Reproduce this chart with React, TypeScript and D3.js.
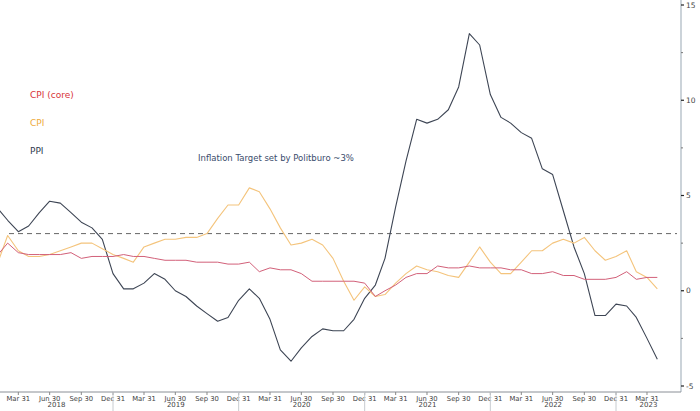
import * as d3 from 'd3'

// month-end dates, Jan 2018 .. Apr 2023
const months = d3.utcMonth
  .range(new Date(Date.UTC(2018, 1, 1)), new Date(Date.UTC(2023, 5, 1)))
  .map(d => d3.utcDay.offset(d, -1))

const ppi = [
  4.3, 3.7, 3.1, 3.4, 4.1, 4.7, 4.6, 4.1, 3.6, 3.3, 2.7, 0.9,
  0.1, 0.1, 0.4, 0.9, 0.6, 0.0, -0.3, -0.8, -1.2, -1.6, -1.4, -0.5,
  0.1, -0.4, -1.5, -3.1, -3.7, -3.0, -2.4, -2.0, -2.1, -2.1, -1.5, -0.4,
  0.3, 1.7, 4.4, 6.8, 9.0, 8.8, 9.0, 9.5, 10.7, 13.5, 12.9, 10.3,
  9.1, 8.8, 8.3, 8.0, 6.4, 6.1, 4.2, 2.3, 0.9, -1.3, -1.3, -0.7,
  -0.8, -1.4, -2.5, -3.6
]

const cpi = [
  1.5, 2.9, 2.1, 1.8, 1.8, 1.9, 2.1, 2.3, 2.5, 2.5, 2.2, 1.9,
  1.7, 1.5, 2.3, 2.5, 2.7, 2.7, 2.8, 2.8, 3.0, 3.8, 4.5, 4.5,
  5.4, 5.2, 4.3, 3.3, 2.4, 2.5, 2.7, 2.4, 1.7, 0.5, -0.5, 0.2,
  -0.3, -0.2, 0.4, 0.9, 1.3, 1.1, 1.0, 0.8, 0.7, 1.5, 2.3, 1.5,
  0.9, 0.9, 1.5, 2.1, 2.1, 2.5, 2.7, 2.5, 2.8, 2.1, 1.6, 1.8,
  2.1, 1.0, 0.7, 0.1
]

const coreCpi = [
  1.9, 2.5, 2.0, 1.9, 1.9, 1.9, 1.9, 2.0, 1.7, 1.8, 1.8, 1.8,
  1.9, 1.8, 1.8, 1.7, 1.6, 1.6, 1.6, 1.5, 1.5, 1.5, 1.4, 1.4,
  1.5, 1.0, 1.2, 1.1, 1.1, 0.9, 0.5, 0.5, 0.5, 0.5, 0.5, 0.4,
  -0.3, 0.0, 0.3, 0.7, 0.9, 0.9, 1.3, 1.2, 1.2, 1.3, 1.2, 1.2,
  1.2, 1.1, 1.1, 0.9, 0.9, 1.0, 0.8, 0.8, 0.6, 0.6, 0.6, 0.7,
  1.0, 0.6, 0.7, 0.7
]

const target = 3
const yTicks = [-5, 0, 5, 10, 15]
const yMinorTicks = [-2.5, 2.5, 7.5, 12.5]
const years = [2018, 2019, 2020, 2021, 2022, 2023]

const quarterEnds = d3.utcMonth
  .range(new Date(Date.UTC(2018, 3, 1)), new Date(Date.UTC(2023, 3, 2)), 3)
  .map(d => d3.utcDay.offset(d, -1))

const W = 700
const H = 411
const plotLeft = 0
const plotRight = 681
const axisY = 392
const font = '"DejaVu Sans", Verdana, sans-serif'

const x = d3.scaleUtc()
  .domain([new Date(Date.UTC(2018, 11, 31)), new Date(Date.UTC(2022, 11, 31))])
  .range([113, 616])

const y = d3.scaleLinear().domain([-5, 15]).range([386, 5])

const fmt = d3.utcFormat('%b %d')

const series = [
  { name: 'PPI', values: ppi, color: '#3d4554', width: 1.1 },
  { name: 'CPI', values: cpi, color: '#f4c47c', width: 1.1 },
  { name: 'CPI (core)', values: coreCpi, color: '#d26079', width: 1 }
]

const labels = [
  { text: 'CPI (core)', color: '#d8343a', y: 95 },
  { text: 'CPI', color: '#eeaa3c', y: 123 },
  { text: 'PPI', color: '#2f3a4d', y: 151 }
]

const App = () => {
  const line = (vals: number[]) =>
    d3.line<number>()
      .x((_, i) => x(months[i]))
      .y(v => y(v))(vals) || ''

  const yearStarts = years.map(yr => x(new Date(Date.UTC(yr - 1, 11, 31))))
  const yearEnds = years.map(yr => x(new Date(Date.UTC(yr, 11, 31))))

  return (
    <svg
      width={W}
      height={H}
      style={{ position: 'absolute', left: 0, top: 0, background: '#fff', fontFamily: font }}
    >
      <defs>
        <clipPath id="plot">
          <rect x={plotLeft} y={0} width={plotRight - plotLeft} height={axisY} />
        </clipPath>
      </defs>

      {/* target line */}
      <line
        x1={9}
        x2={677}
        y1={y(target)}
        y2={y(target)}
        stroke="#555"
        strokeWidth={0.9}
        strokeDasharray="5,4"
      />

      <g clipPath="url(#plot)">
        {series.map(s => (
          <path
            key={s.name}
            d={line(s.values)}
            fill="none"
            stroke={s.color}
            strokeWidth={s.width}
            strokeLinejoin="round"
          />
        ))}
      </g>

      {/* legend text */}
      {labels.map(l => (
        <text key={l.text} x={30} y={l.y} dy="0.35em" fontSize={9} fill={l.color}>
          {l.text}
        </text>
      ))}
      <text x={198} y={158} dy="0.35em" fontSize={8.5} fill="#3a4c6c">
        Inflation Target set by Politburo ~3%
      </text>

      {/* right axis */}
      <line x1={plotRight} x2={plotRight} y1={0} y2={axisY} stroke="#a9b6c0" strokeWidth={1.2} />
      {yTicks.map(t => (
        <g key={t} transform={`translate(${plotRight},${y(t)})`}>
          <line x1={0} x2={3} stroke="#222" strokeWidth={1.2} />
          <text x={5} dy="0.35em" fontSize={7.5} fill="#444">{t}</text>
        </g>
      ))}
      {yMinorTicks.map(t => (
        <line key={t} x1={plotRight} x2={plotRight + 2} y1={y(t)} y2={y(t)} stroke="#777" />
      ))}

      {/* bottom axis */}
      <line x1={plotLeft} x2={plotRight} y1={axisY} y2={axisY} stroke="#8a8f96" strokeWidth={1} />
      {quarterEnds.map(d => (
        <g key={d.toISOString()} transform={`translate(${x(d)},${axisY})`}>
          <line y1={0} y2={3} stroke="#888" />
          <text y={6.5} dy="0.35em" textAnchor="middle" fontSize={6.8} fill="#444">{fmt(d)}</text>
        </g>
      ))}
      {yearEnds.slice(0, -1).map((xe, i) => (
        <line key={years[i]} x1={xe} x2={xe} y1={axisY} y2={H} stroke="#c8ccd0" />
      ))}
      {years.map((yr, i) => {
        const a = Math.max(plotLeft, yearStarts[i])
        const b = Math.min(plotRight, yearEnds[i])
        return (
          <text key={yr} x={(a + b) / 2} y={405} dy="0.35em" textAnchor="middle" fontSize={7} fill="#444">
            {yr}
          </text>
        )
      })}
    </svg>
  )
}

export default App
